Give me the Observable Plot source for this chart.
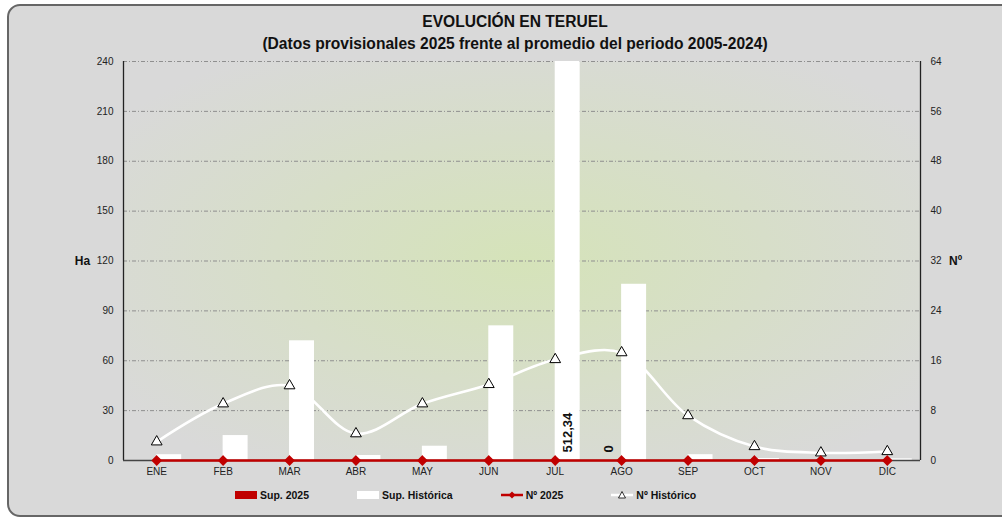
<!DOCTYPE html>
<html>
<head>
<meta charset="utf-8">
<script src="https://cdn.jsdelivr.net/npm/d3@7"></script>
<script src="https://cdn.jsdelivr.net/npm/@observablehq/plot@0.6"></script>
<style>
  html, body { margin: 0; padding: 0; background: #ffffff; }
  body { width: 1002px; height: 517px; overflow: hidden; position: relative; font-family: "Liberation Sans", Arial, sans-serif; }
  #box { position: absolute; left: 7px; top: 4px; width: 1030px; height: 509px; background: #d9d9d9; border: 2px solid #666; border-radius: 13px; }
  #chart { position: absolute; left: 0; top: 0; }
  .title { position: absolute; left: 215px; width: 600px; text-align: center; font-weight: bold; color: #111; font-size: 15.6px; line-height: 18px; white-space: nowrap; }
  #legend { position: absolute; left: 235px; top: 489px; display: flex; gap: 48px; font-weight: bold; font-size: 10.5px; color: #111; }
  .item { display: flex; align-items: center; }
  .item svg { margin-right: 3px; }
</style>
</head>
<body>
<div id="box"></div>
<svg width="0" height="0" style="position:absolute">
  <defs>
    <radialGradient id="bgGrad" cx="50%" cy="50%" r="62%">
      <stop offset="0%" stop-color="#d5e3b9"/>
      <stop offset="100%" stop-color="#d9d9d9"/>
    </radialGradient>
  </defs>
</svg>
<div id="chart"></div>
<div class="title" style="top:13px">EVOLUCIÓN EN TERUEL</div>
<div class="title" style="top:35px">(Datos provisionales 2025 frente al promedio del periodo 2005-2024)</div>
<div id="legend"></div>
<script>
// ---- data ----
const months = ["ENE","FEB","MAR","ABR","MAY","JUN","JUL","AGO","SEP","OCT","NOV","DIC"];
const sup2025 = [0,0,0,0,0,0,0,0,0,0,0,0];
const supHistorica = [3.5, 15, 72, 3, 8.6, 81, 512.34, 106, 3.5, 1.2, 0.4, 1];
const n2025 = [0,0,0,0,0,0,0,0,0,0,0,0];
const nHistorico = [3, 9.1, 12, 4.3, 9.1, 12.2, 16.2, 17.3, 7.2, 2.24, 1.23, 1.44];
const haTicks = [0, 30, 60, 90, 120, 150, 180, 210, 240];
const nTicks = [0, 8, 16, 24, 32, 40, 48, 56, 64];
const barLabels = [
  {month: "JUL", series: "Sup. Histórica", text: "512,34"},
  {month: "AGO", series: "Sup. 2025", text: "0"}
];
const legendItems = ["Sup. 2025", "Sup. Histórica", "Nº 2025", "Nº Histórico"];

// ---- helpers ----
const haMax = haTicks[haTicks.length - 1];
const nMax = nTicks[nTicks.length - 1];
const toHa = n => n * haMax / nMax;       // secondary axis mapping
const barW = 0.376;                        // bar width as fraction of category
const red = "#c00000";

const bars2025 = months.map((m, i) => ({i, v: sup2025[i]}));
const barsHist = months.map((m, i) => ({i, v: supHistorica[i]}));
const lineN2025 = months.map((m, i) => ({i, v: toHa(n2025[i])}));
const lineNHist = months.map((m, i) => ({i, v: toHa(nHistorico[i])}));
const labels = barLabels.map(d => ({
  x: months.indexOf(d.month) + (d.series === "Sup. 2025" ? -barW / 2 : barW / 2),
  text: d.text
}));

const chart = Plot.plot({
  width: 1002,
  height: 517,
  marginLeft: 123,
  marginRight: 82,
  marginTop: 61,
  marginBottom: 57,
  style: {background: "transparent", fontFamily: "'Liberation Sans', Arial, sans-serif", fontSize: "10px", color: "#222"},
  x: {type: "linear", domain: [-0.5, months.length - 0.5], axis: null},
  y: {domain: [0, haMax], axis: null},
  marks: [
    Plot.frame({fill: "url(#bgGrad)", stroke: "none"}),
    Plot.ruleY(haTicks.slice(1), {stroke: "#8f8f8f", strokeWidth: 1, strokeDasharray: "4,2,1,2"}),
    Plot.rectY(bars2025, {x1: d => d.i - barW, x2: d => d.i, y: "v", fill: red, clip: true}),
    Plot.rectY(barsHist, {x1: d => d.i, x2: d => d.i + barW, y: "v", fill: "#ffffff", clip: true}),
    Plot.ruleX([-0.5, months.length - 0.5], {stroke: "#222", strokeWidth: 1.3}),
    Plot.ruleY([0], {stroke: "#444", strokeWidth: 1.3}),
    Plot.line(lineNHist, {x: "i", y: "v", curve: "catmull-rom", stroke: "#ffffff", strokeWidth: 2.6}),
    Plot.dot(lineNHist, {x: "i", y: "v", symbol: "triangle", r: 4, fill: "#ffffff", stroke: "#000", strokeWidth: 1}),
    Plot.line(lineN2025, {x: "i", y: "v", stroke: red, strokeWidth: 2.6}),
    Plot.dot(lineN2025, {x: "i", y: "v", symbol: "diamond2", r: 3.9, fill: red, stroke: red}),
    Plot.text(labels, {x: "x", y: 0, text: "text", rotate: -90, textAnchor: "start", dy: -8, fontWeight: "bold", fontSize: 13, fill: "#111"}),
    Plot.axisY(haTicks, {anchor: "left", tickSize: 0, tickPadding: 10, label: null, fontSize: 10}),
    Plot.axisY(haTicks, {anchor: "right", tickSize: 0, tickPadding: 10, label: null, fontSize: 10,
      tickFormat: (d, k) => nTicks[k]}),
    Plot.axisX(months.map((m, i) => i), {anchor: "bottom", tickSize: 0, tickPadding: 7, label: null, fontSize: 10,
      tickFormat: i => months[i]}),
    Plot.text(["Ha"], {frameAnchor: "left", textAnchor: "middle", dx: -41, fontWeight: "bold", fontSize: 12, fill: "#111"}),
    Plot.text(["Nº"], {frameAnchor: "right", textAnchor: "middle", dx: 35, fontWeight: "bold", fontSize: 12, fill: "#111"})
  ]
});
document.getElementById("chart").appendChild(chart);

// ---- legend ----
const swatches = {
  "Sup. 2025": `<svg width="22" height="10"><rect x="0" y="1" width="22" height="8" fill="${red}"/></svg>`,
  "Sup. Histórica": `<svg width="22" height="10"><rect x="0" y="1" width="22" height="8" fill="#fff"/></svg>`,
  "Nº 2025": `<svg width="22" height="10"><line x1="0" x2="22" y1="5" y2="5" stroke="${red}" stroke-width="2.5"/><path d="M11,1.5L14.5,5L11,8.5L7.5,5Z" fill="${red}"/></svg>`,
  "Nº Histórico": `<svg width="22" height="10"><line x1="0" x2="22" y1="5" y2="5" stroke="#fff" stroke-width="2.5"/><path d="M11,1.5L14.5,8L7.5,8Z" fill="#fff" stroke="#000" stroke-width="0.8"/></svg>`
};
const legend = document.getElementById("legend");
legendItems.forEach(name => {
  const div = document.createElement("div");
  div.className = "item";
  div.innerHTML = swatches[name] + `<span>${name}</span>`;
  legend.appendChild(div);
});
</script>
</body>
</html>
